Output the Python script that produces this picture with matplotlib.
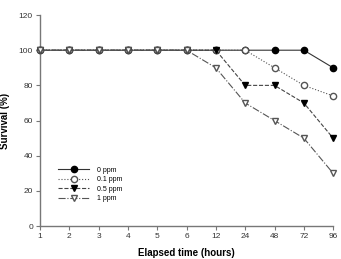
import numpy as np
import matplotlib.pyplot as plt

plt.rcParams['font.family'] = ['Liberation Sans', 'DejaVu Sans']

hours = ['1', '2', '3', '4', '5', '6', '12', '24', '48', '72', '96']
s_0 = [100, 100, 100, 100, 100, 100, 100, 100, 100, 100, 90]
s_01 = [100, 100, 100, 100, 100, 100, 100, 100, 90, 80, 74]
s_05 = [100, 100, 100, 100, 100, 100, 100, 80, 80, 70, 50]
s_1 = [100, 100, 100, 100, 100, 100, 90, 70, 60, 50, 30]

x = np.arange(len(hours))

fig = plt.figure(figsize=(3.41, 2.59), dpi=100)
ax = fig.add_axes([0.117, 0.127, 0.86, 0.815])

ax.plot(x, s_0, '-', color='#333333', lw=0.8, marker='o', ms=4.5,
        mfc='black', mec='black', label='0 ppm', clip_on=False, zorder=2)
ax.plot(x, s_01, ':', color='#555555', lw=0.8, marker='o', ms=4.5,
        mfc='white', mec='#555555', label='0.1 ppm', clip_on=False, zorder=3)
ax.plot(x, s_05, '--', color='#444444', lw=0.8, marker='v', ms=4.5,
        mfc='black', mec='black', label='0.5 ppm', clip_on=False, zorder=4)
ax.plot(x, s_1, '-.', color='#555555', lw=0.8, marker='v', ms=4.5,
        mfc='white', mec='#555555', label='1 ppm', clip_on=False, zorder=5)

ax.set_xlim(0, 10)
ax.set_ylim(0, 120)
ax.set_xticks(x)
ax.set_xticklabels(hours)
ax.set_yticks(np.arange(0, 121, 20))
ax.tick_params(labelsize=6, length=3, width=0.8, color='#777777',
               labelcolor='#333333', pad=2)
for side in ['top', 'right']:
    ax.spines[side].set_visible(False)
for side in ['left', 'bottom']:
    ax.spines[side].set_color('#777777')
    ax.spines[side].set_linewidth(1)

ax.set_xlabel('Elapsed time (hours)', fontsize=7, fontweight='bold', labelpad=6)
ax.set_ylabel('Survival (%)', fontsize=7, fontweight='bold', labelpad=6)

ax.legend(loc='upper left', bbox_to_anchor=(0.04, 0.31), frameon=False,
          fontsize=5, handlelength=4.5, labelspacing=0.35, handletextpad=1.2)

fig.savefig('out.png', dpi=100)
